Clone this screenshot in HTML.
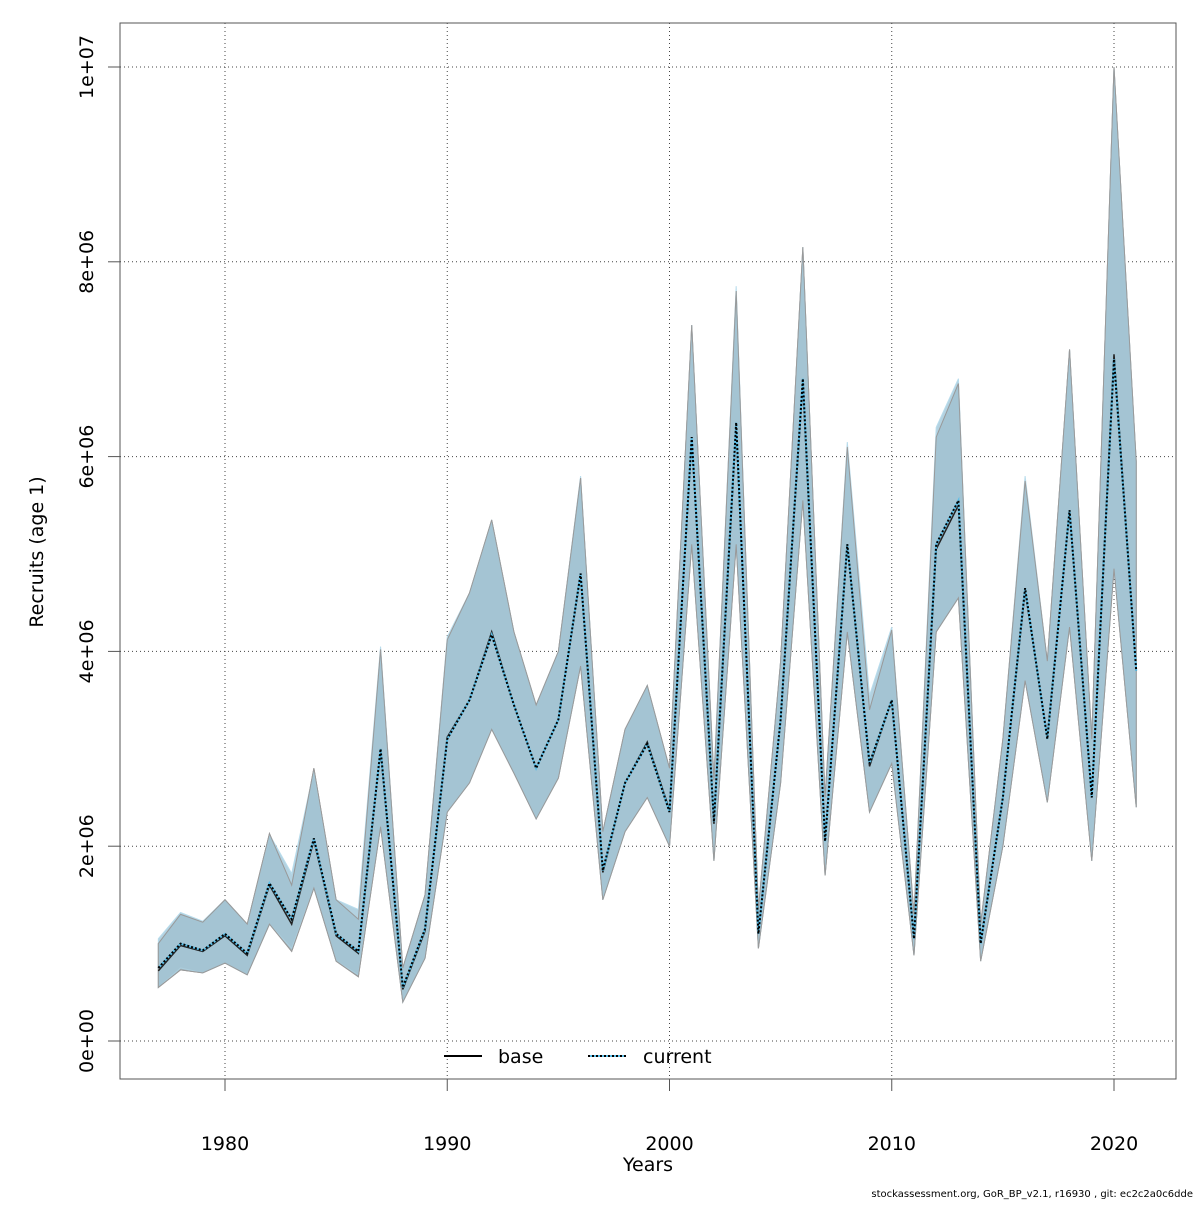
<!DOCTYPE html>
<html><head><meta charset="utf-8"><style>
html,body{margin:0;padding:0;background:#fff;}
svg text{font-family:"DejaVu Sans","Liberation Sans",sans-serif;fill:#000;}
</style></head><body>
<svg id="chart" width="1200" height="1200" xmlns="http://www.w3.org/2000/svg">
<rect x="0" y="0" width="1200" height="1200" fill="#fff"/>
<g id="grid"></g>
<g id="bands"></g>
<g id="lines"></g>
<rect x="120" y="23" width="1056" height="1056" fill="none" stroke="#555" stroke-width="1"/>
<g id="axes"></g>
<text x="648" y="1171" font-size="19" text-anchor="middle">Years</text>
<text transform="translate(43,552) rotate(-90)" font-size="19" text-anchor="middle">Recruits (age 1)</text>
<g>
<g>
<line x1="444" y1="1056" x2="482" y2="1056" stroke="#000" stroke-width="2"/>
<text x="498" y="1063" font-size="19">base</text></g>
<g>
<line x1="588" y1="1056" x2="626" y2="1056" stroke="#5bbfe8" stroke-width="2"/>
<line x1="588" y1="1056" x2="626" y2="1056" stroke="#000" stroke-width="2" stroke-dasharray="2,2"/>
<text x="643" y="1063" font-size="19">current</text></g>
</g>
<text x="1193" y="1197" font-size="10" text-anchor="end">stockassessment.org, GoR_BP_v2.1, r16930 , git: ec2c2a0c6dde</text>
</svg>
<script>
const years=[1977,1978,1979,1980,1981,1982,1983,1984,1985,1986,1987,1988,1989,1990,1991,1992,1993,1994,1995,1996,1997,1998,1999,2000,2001,2002,2003,2004,2005,2006,2007,2008,2009,2010,2011,2012,2013,2014,2015,2016,2017,2018,2019,2020,2021];
const currentMid=[0.75,1.0,0.93,1.1,0.9,1.62,1.25,2.08,1.1,0.92,3.0,0.55,1.15,3.1,3.5,4.17,3.45,2.8,3.3,4.8,1.75,2.65,3.05,2.35,6.2,2.25,6.35,1.1,3.3,6.8,2.05,5.1,2.85,3.5,1.05,5.1,5.55,1.0,2.5,4.65,3.1,5.45,2.5,7.0,3.8];
const currentHigh=[1.05,1.32,1.23,1.45,1.2,2.12,1.72,2.78,1.45,1.35,4.05,0.75,1.5,4.15,4.6,5.35,4.2,3.45,4.0,5.8,2.15,3.2,3.65,2.8,7.35,2.7,7.75,1.35,3.9,8.15,2.5,6.15,3.55,4.25,1.3,6.3,6.8,1.2,3.1,5.8,3.9,7.1,3.1,10.0,5.95];
const currentLow=[0.55,0.75,0.7,0.8,0.68,1.2,0.95,1.57,0.82,0.68,2.2,0.4,0.85,2.35,2.65,3.2,2.75,2.28,2.7,3.85,1.45,2.15,2.5,2.0,5.1,1.85,5.1,0.95,2.65,5.55,1.7,4.2,2.35,2.85,0.88,4.2,4.55,0.82,2.0,3.7,2.45,4.25,1.85,4.85,2.4];
const baseMid=[0.72,0.98,0.92,1.08,0.88,1.6,1.2,2.06,1.08,0.9,2.98,0.53,1.13,3.12,3.5,4.2,3.45,2.8,3.3,4.78,1.73,2.65,3.07,2.37,6.18,2.23,6.3,1.12,3.3,6.75,2.07,5.1,2.82,3.5,1.07,5.05,5.5,1.02,2.5,4.62,3.12,5.45,2.5,7.05,3.8];
const baseHigh=[1.0,1.3,1.22,1.45,1.2,2.13,1.6,2.8,1.45,1.25,4.02,0.75,1.5,4.12,4.6,5.35,4.2,3.45,4.0,5.78,2.15,3.2,3.65,2.8,7.35,2.68,7.7,1.35,3.9,8.15,2.5,6.1,3.4,4.22,1.3,6.2,6.75,1.2,3.1,5.75,3.9,7.1,3.1,10.0,5.95];
const baseLow=[0.55,0.73,0.7,0.8,0.68,1.2,0.92,1.57,0.82,0.66,2.2,0.4,0.85,2.35,2.65,3.2,2.75,2.28,2.7,3.85,1.45,2.15,2.5,2.0,5.1,1.85,5.1,0.95,2.65,5.55,1.7,4.2,2.35,2.85,0.88,4.2,4.55,0.82,2.0,3.7,2.45,4.25,1.85,4.85,2.4];
const xTicks=[1980,1990,2000,2010,2020];
const yTicks=[0,2,4,6,8,10];
const yTickLabels=["0e+00","2e+06","4e+06","6e+06","8e+06","1e+07"];

const NS="http://www.w3.org/2000/svg";
const xs=y=>225+(y-1980)*(889/40);
const ys=v=>1041-v*97.4;
function mk(tag,attrs,parent){const e=document.createElementNS(NS,tag);for(const k in attrs)e.setAttribute(k,attrs[k]);parent.appendChild(e);return e;}
const grid=document.getElementById('grid'),axes=document.getElementById('axes'),bands=document.getElementById('bands'),lines=document.getElementById('lines');
xTicks.forEach(t=>{
  const g=mk('line',{x1:xs(t),x2:xs(t),y1:23,y2:1079,stroke:'#444','stroke-width':1,'stroke-dasharray':'1,3'},grid);
  
  
  const tk=mk('line',{x1:xs(t),x2:xs(t),y1:1079,y2:1091,stroke:'#555'},axes);
  
  
  const tx=mk('text',{x:xs(t),y:1150,'font-size':19,'text-anchor':'middle'},axes);
  tx.textContent=t;
  
  
});
yTicks.forEach((t,i)=>{
  const g=mk('line',{x1:120,x2:1176,y1:ys(t),y2:ys(t),stroke:'#444','stroke-width':1,'stroke-dasharray':'1,3'},grid);
  
  
  const tk=mk('line',{x1:108,x2:120,y1:ys(t),y2:ys(t),stroke:'#555'},axes);
  
  
  const tx=mk('text',{transform:`translate(93,${ys(t)}) rotate(-90)`,'font-size':19,'text-anchor':'middle'},axes);
  tx.textContent=yTickLabels[i];
  
  
});
function bandPts(hi,lo){const a=years.map((y,i)=>xs(y)+','+ys(hi[i]));const b=years.map((y,i)=>xs(y)+','+ys(lo[i])).reverse();return a.concat(b).join(' ');}
function linePts(m){return years.map((y,i)=>xs(y)+','+ys(m[i])).join(' ');}
const b1=mk('polygon',{points:bandPts(baseHigh,baseLow),fill:'#a0a0a0',stroke:'#888','stroke-width':1},bands);


const b2=mk('polygon',{points:bandPts(currentHigh,currentLow),fill:'#a6cadc','fill-opacity':0.85,stroke:'#b8dcec','stroke-width':1},bands);


const b3=mk('polygon',{points:bandPts(baseHigh,baseLow),fill:'#a4c4d4','fill-opacity':0.6,stroke:'#999','stroke-width':1},bands);


const l1=mk('polyline',{points:linePts(baseMid),fill:'none',stroke:'#222','stroke-width':1.5},lines);


const l2=mk('polyline',{points:linePts(currentMid),fill:'none',stroke:'#5bbfe8','stroke-width':2},lines);


const l3=mk('polyline',{points:linePts(currentMid),fill:'none',stroke:'#000','stroke-width':2,'stroke-dasharray':'2,2'},lines);


</script>
</body></html>
